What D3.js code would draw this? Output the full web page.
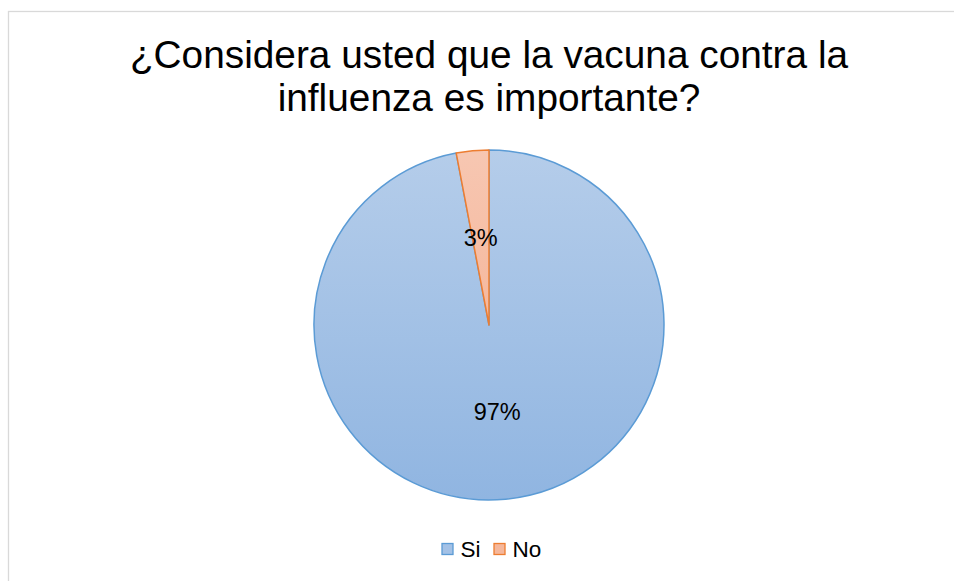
<!DOCTYPE html>
<html>
<head>
<meta charset="utf-8">
<script src="https://cdn.jsdelivr.net/npm/d3@7"></script>
<style>
  html, body { margin: 0; padding: 0; background: #fff; }
  svg { display: block; }
  text { font-family: "Liberation Sans", Arial, sans-serif; fill: #000; }
</style>
</head>
<body>
<svg id="chart" width="954" height="581"></svg>
<script>
const categories = ["Si", "No"];
const values = [97, 3];
const labels = ["97%", "3%"];
const titleLines = ["¿Considera usted que la vacuna contra la", "influenza es importante?"];

const W = 954, H = 581;
const svg = d3.select("#chart");

// chart border
svg.append("rect")
  .attr("x", 8.5).attr("y", 11.5)
  .attr("width", 990).attr("height", 620)
  .attr("fill", "#fff").attr("stroke", "#d9d9d9").attr("stroke-width", 1.3);

const defs = svg.append("defs");
const grads = [
  { id: "gSi", top: "#b5cdea", bottom: "#90b5e1" },
  { id: "gNo", top: "#f7c7b2", bottom: "#f3a887" }
];
grads.forEach(g => {
  const lg = defs.append("linearGradient").attr("id", g.id)
    .attr("gradientUnits", "userSpaceOnUse")
    .attr("x1", 0).attr("y1", -175).attr("x2", 0).attr("y2", 175);
  lg.append("stop").attr("offset", "0%").attr("stop-color", g.top);
  lg.append("stop").attr("offset", "100%").attr("stop-color", g.bottom);
});
const strokes = ["#5b9bd5", "#ed7d31"];
const color = d3.scaleOrdinal().domain(categories).range(["url(#gSi)", "url(#gNo)"]);
const swatch = d3.scaleOrdinal().domain(categories).range(["#a3c1e6", "#f5b79b"]);
const strokeColor = d3.scaleOrdinal().domain(categories).range(strokes);

// title
const title = svg.append("text").attr("text-anchor", "middle")
  .style("font-size", "38.8px");
titleLines.forEach((t, i) => {
  title.append("tspan").attr("x", 489).attr("y", 68 + i * 43).text(t);
});

const cx = 489, cy = 325, r = 175;
const data = categories.map((c, i) => ({ cat: c, value: values[i], label: labels[i] }));
const pie = d3.pie().sort(null).value(d => d.value);
const arc = d3.arc().innerRadius(0).outerRadius(r);
const labelArc = d3.arc().innerRadius(r * 0.5).outerRadius(r * 0.5);

const g = svg.append("g").attr("transform", `translate(${cx},${cy})`);
const arcs = pie(data);
g.selectAll("path").data(arcs).enter().append("path")
  .attr("d", arc)
  .attr("fill", d => color(d.data.cat))
  .attr("stroke", d => strokeColor(d.data.cat))
  .attr("stroke-width", 1.5)
  .attr("stroke-linejoin", "round");

g.selectAll("text.lbl").data(arcs).enter().append("text")
  .attr("class", "lbl")
  .attr("transform", d => `translate(${labelArc.centroid(d)})`)
  .attr("text-anchor", "middle")
  .attr("dy", "0.35em")
  .style("font-size", "23.5px")
  .text(d => d.data.label);

// legend
const legend = svg.append("g");
const legendX = [442, 494];
categories.forEach((c, i) => {
  const lg = legend.append("g").attr("transform", `translate(${legendX[i]},543.5)`);
  lg.append("rect").attr("x", 0).attr("y", 0).attr("width", 11).attr("height", 11)
    .attr("fill", swatch(c)).attr("stroke", strokeColor(c)).attr("stroke-width", 1.3);
  lg.append("text").attr("x", 18.5).attr("y", 13.2)
    .style("font-size", "22.5px").text(c);
});
</script>
</body>
</html>
